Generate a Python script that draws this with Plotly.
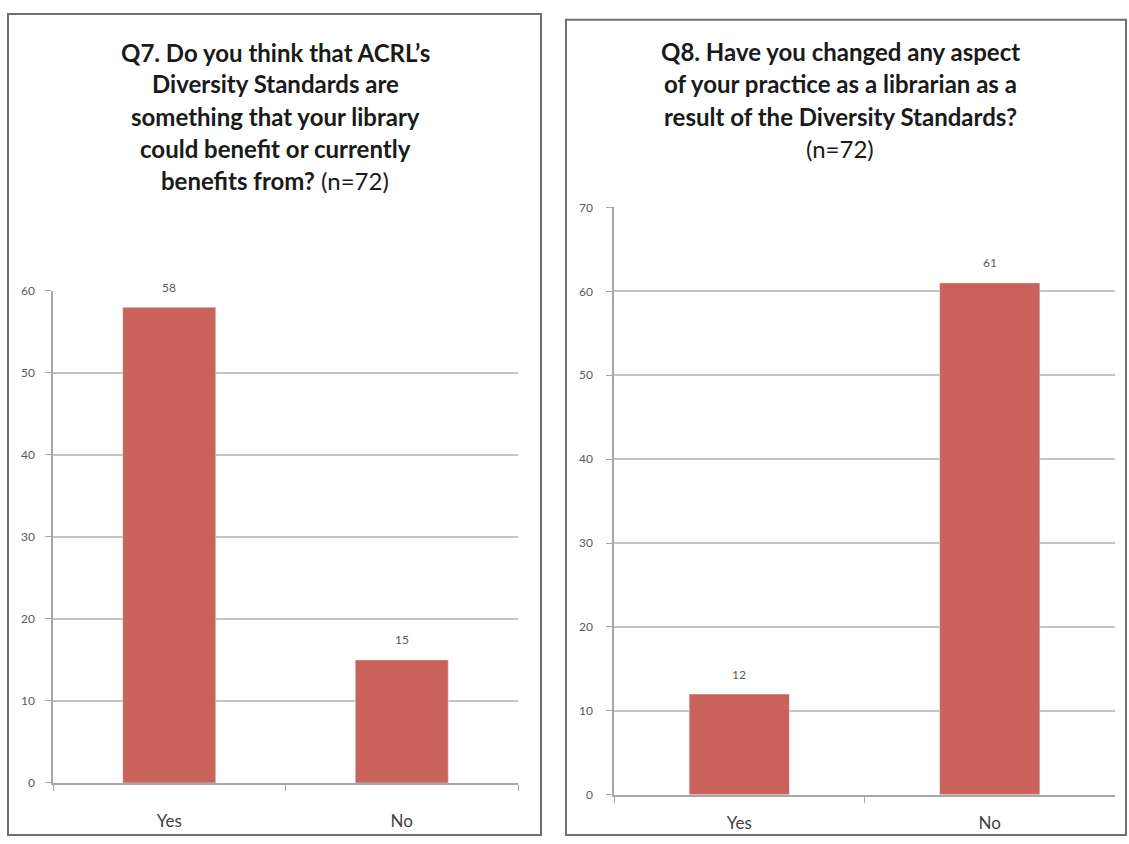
import plotly.graph_objects as go

# ---- data ----
categories = ["Yes", "No"]
q7_values = [58, 15]
q8_values = [12, 61]
q7_title = ["<b>Q7. Do you think that ACRL\u2019s</b>",
            "<b>Diversity Standards are</b>",
            "<b>something that your library</b>",
            "<b>could benefit or currently</b>",
            "<b>benefits from?</b> (n=72)"]
q8_title = ["<b>Q8. Have you changed any aspect</b>",
            "<b>of your practice as a librarian as a</b>",
            "<b>result of the Diversity Standards?</b>",
            "(n=72)"]

W, H = 1129, 844
BAR = "#C8625A"
AXIS = "#A6A6A6"
GRID = "#C4C4C4"
FONT = "Lato, 'Open Sans', sans-serif"

def px_x(p):
    return p / W

def px_y(p):
    return 1 - p / H

fig = go.Figure()
fig.add_trace(go.Bar(x=categories, y=q7_values, marker_color=BAR, xaxis="x", yaxis="y",
                     showlegend=False, hoverinfo="x+y"))
fig.add_trace(go.Bar(x=categories, y=q8_values, marker_color=BAR, xaxis="x2", yaxis="y2",
                     showlegend=False, hoverinfo="x+y"))

common_x = dict(type="category", showline=True, linecolor=AXIS, linewidth=1.5,
                ticks="outside", tickson="boundaries", ticklen=6, tickcolor=AXIS,
                tickfont=dict(size=17, color="#404040", family=FONT),
                showgrid=False, zeroline=False, fixedrange=True)
common_y = dict(showline=True, linecolor=AXIS, linewidth=1.5, ticks="outside",
                ticklen=6, tickcolor=AXIS, showgrid=True, gridcolor=GRID, gridwidth=1.5,
                dtick=10, zeroline=False, tickfont=dict(size=12, color="#595959", family=FONT),
                fixedrange=True)

fig.update_layout(
    width=W, height=H,
    margin=dict(l=0, r=0, t=0, b=0),
    paper_bgcolor="white", plot_bgcolor="white",
    bargap=0.6,
    font=dict(family=FONT),
    xaxis=dict(common_x, domain=[px_x(53), px_x(518)], anchor="y", ticklabelstandoff=22),
    yaxis=dict(common_y, domain=[px_y(789), px_y(288)], range=[0, 60], anchor="x",
               ticklabelstandoff=8),
    xaxis2=dict(common_x, domain=[px_x(614), px_x(1115)], anchor="y2", ticklabelstandoff=12),
    yaxis2=dict(common_y, domain=[px_y(801), px_y(203)], range=[0, 70], anchor="x2",
                ticklabelstandoff=11),
)

# panel frames
fig.add_shape(type="rect", xref="paper", yref="paper",
              x0=px_x(8), x1=px_x(541), y0=px_y(842), y1=px_y(6),
              line=dict(color="#6F6F6F", width=2), fillcolor="rgba(0,0,0,0)")
fig.add_shape(type="rect", xref="paper", yref="paper",
              x0=px_x(566), x1=px_x(1126), y0=px_y(842), y1=px_y(12),
              line=dict(color="#6F6F6F", width=2), fillcolor="rgba(0,0,0,0)")

# data labels
for xa, ya, vals in (("x", "y", q7_values), ("x2", "y2", q8_values)):
    for c, v in zip(categories, vals):
        fig.add_annotation(x=c, y=v, xref=xa, yref=ya, text=str(v), showarrow=False,
                           yshift=20, font=dict(size=12, color="#595959", family=FONT))

# titles
left_y = [45, 77, 110, 143, 176]
for t, y in zip(q7_title, left_y):
    fig.add_annotation(x=px_x(275), y=px_y(y), xref="paper", yref="paper", text=t,
                       showarrow=False, xanchor="center", yanchor="middle",
                       font=dict(size=24, color="#1A1A1A", family=FONT))
right_y = [44, 77, 110, 143]
for t, y in zip(q8_title, right_y):
    fig.add_annotation(x=px_x(840), y=px_y(y), xref="paper", yref="paper", text=t,
                       showarrow=False, xanchor="center", yanchor="middle",
                       font=dict(size=24, color="#1A1A1A", family=FONT))

fig.write_html("out.html")
